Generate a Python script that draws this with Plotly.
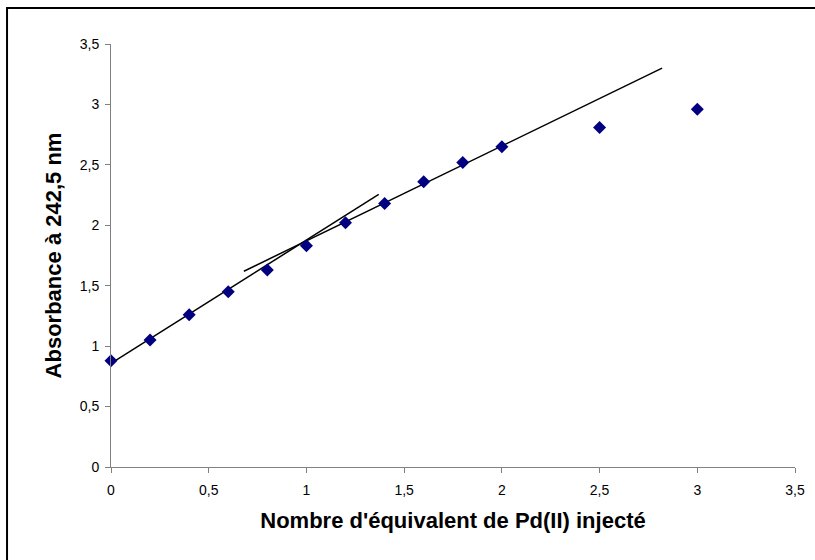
import plotly.graph_objects as go

# Data
equiv = [0, 0.2, 0.4, 0.6, 0.8, 1.0, 1.2, 1.4, 1.6, 1.8, 2.0, 2.5, 3.0]
absorbance = [0.88, 1.05, 1.26, 1.45, 1.63, 1.83, 2.02, 2.18, 2.36, 2.52, 2.65, 2.81, 2.96]

# Trend lines (end points)
fit1_x = [0.0, 1.37]
fit1_y = [0.857, 2.256]
fit2_x = [0.68, 2.82]
fit2_y = [1.62, 3.30]

tick_vals = [0, 0.5, 1, 1.5, 2, 2.5, 3, 3.5]
tick_text = ["0", "0,5", "1", "1,5", "2", "2,5", "3", "3,5"]

fig = go.Figure()
fig.add_trace(go.Scatter(x=fit1_x, y=fit1_y, mode="lines",
                         line=dict(color="black", width=1.5), showlegend=False))
fig.add_trace(go.Scatter(x=fit2_x, y=fit2_y, mode="lines",
                         line=dict(color="black", width=1.5), showlegend=False))
fig.add_trace(go.Scatter(x=equiv, y=absorbance, mode="markers",
                         marker=dict(symbol="diamond", size=10, color="#000080"),
                         showlegend=False, cliponaxis=False))

axis_common = dict(
    showgrid=False, zeroline=False, showline=True, linecolor="#808080", linewidth=1,
    ticks="outside", ticklen=5, tickcolor="#808080", tickwidth=1,
    tickfont=dict(family="Liberation Sans, Arial", size=14, color="black"),
    tickvals=tick_vals, ticktext=tick_text, range=[0, 3.5], automargin=False,
)

fig.update_layout(
    width=815, height=560,
    margin=dict(l=111, r=20, t=44, b=93),
    paper_bgcolor="white", plot_bgcolor="white",
    font=dict(family="Liberation Sans, Arial", color="black"),
    xaxis=dict(**axis_common, ticklabelstandoff=5,
               title=dict(text="<b>Nombre d'équivalent de Pd(II) injecté</b>",
                          font=dict(size=22, family="Liberation Sans, Arial"), standoff=15)),
    yaxis=dict(**axis_common, ticklabelstandoff=3,
               title=dict(text="<b>Absorbance à 242,5 nm</b>",
                          font=dict(size=22, family="Liberation Sans, Arial"), standoff=12)),
    shapes=[dict(type="rect", xref="paper", yref="paper",
                 x0=-0.152, x1=1.1, y0=-0.3, y1=1.085,
                 line=dict(color="black", width=2), fillcolor="rgba(0,0,0,0)", layer="below")],
)

fig.write_html("out.html", config={"displayModeBar": False},
               post_script="document.body.style.margin='0';document.body.style.overflow='hidden';")
